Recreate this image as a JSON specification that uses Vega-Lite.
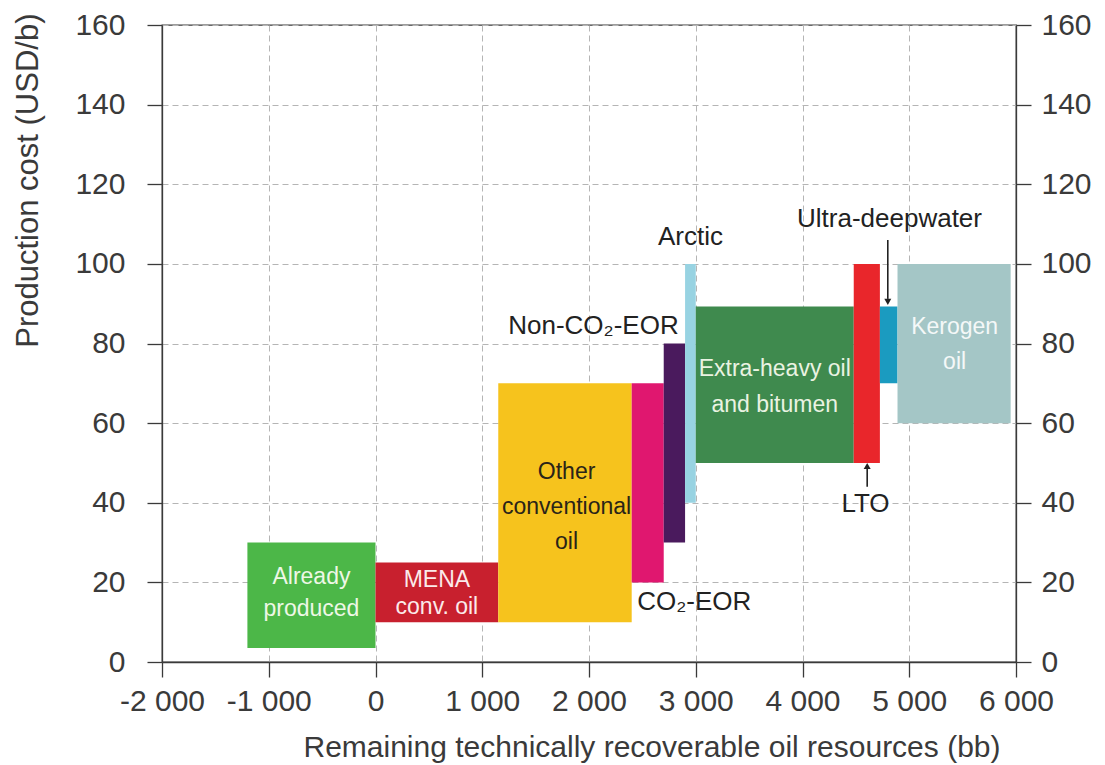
{
  "$schema": "https://vega.github.io/schema/vega-lite/v6.json",
  "width": 854,
  "height": 637,
  "autosize": {"type": "none"},
  "padding": {"left": 162, "top": 25, "right": 89, "bottom": 103},
  "background": "white",
  "config": {
    "view": {"stroke": "#3a3a3a", "strokeWidth": 1.3},
    "font": "Liberation Sans",
    "axis": {
      "domainColor": "#3a3a3a", "domainWidth": 1.3,
      "tickColor": "#3a3a3a", "tickWidth": 1.3, "tickSize": 15,
      "labelFont": "Liberation Sans", "labelFontSize": 30, "labelColor": "#3a3a3a",
      "gridColor": "#b5b5b5", "gridDash": [6, 4], "gridWidth": 1,
      "titleFont": "Liberation Sans", "titleFontWeight": "normal", "titleColor": "#3a3a3a"
    }
  },
  "datasets": {
    "bars": [
      {"name": "Already produced", "x0": -1200, "x1": 0, "y0": 3.5, "y1": 30},
      {"name": "MENA conv. oil", "x0": 0, "x1": 1150, "y0": 10, "y1": 25},
      {"name": "Other conventional oil", "x0": 1150, "x1": 2400, "y0": 10, "y1": 70},
      {"name": "CO2-EOR", "x0": 2400, "x1": 2700, "y0": 20, "y1": 70},
      {"name": "Non-CO2-EOR", "x0": 2700, "x1": 2900, "y0": 30, "y1": 80},
      {"name": "Arctic", "x0": 2900, "x1": 3000, "y0": 40, "y1": 100},
      {"name": "Extra-heavy oil and bitumen", "x0": 3000, "x1": 4480, "y0": 50, "y1": 89.3},
      {"name": "LTO", "x0": 4480, "x1": 4725, "y0": 50, "y1": 100},
      {"name": "Ultra-deepwater", "x0": 4725, "x1": 4890, "y0": 70, "y1": 89.3},
      {"name": "Kerogen oil", "x0": 4890, "x1": 5950, "y0": 60, "y1": 100}
    ],
    "inlabels": [
      {"bar": "Already produced", "text": "Already", "x": -600, "y": 19.7},
      {"bar": "Already produced", "text": "produced", "x": -600, "y": 11.5},
      {"bar": "MENA conv. oil", "text": "MENA", "x": 575, "y": 18.8},
      {"bar": "MENA conv. oil", "text": "conv. oil", "x": 575, "y": 12.0},
      {"bar": "Other conventional oil", "text": "Other", "x": 1790, "y": 45.9},
      {"bar": "Other conventional oil", "text": "conventional", "x": 1790, "y": 37.1},
      {"bar": "Other conventional oil", "text": "oil", "x": 1790, "y": 28.3},
      {"bar": "Extra-heavy oil and bitumen", "text": "Extra-heavy oil", "x": 3740, "y": 71.8},
      {"bar": "Extra-heavy oil and bitumen", "text": "and bitumen", "x": 3740, "y": 62.8},
      {"bar": "Kerogen oil", "text": "Kerogen", "x": 5425, "y": 82.4},
      {"bar": "Kerogen oil", "text": "oil", "x": 5425, "y": 73.6}
    ],
    "notes": [
      {"text": "Arctic", "x": 2951, "y": 104.7, "anchor": "center"},
      {"text": "Ultra-deepwater", "x": 4815, "y": 109.3, "anchor": "center"},
      {"text": "LTO", "x": 4590, "y": 37.75, "anchor": "center"},
      {"text": "Non-CO₂-EOR", "x": 2840, "y": 82.5, "anchor": "right"},
      {"text": "CO₂-EOR", "x": 2452, "y": 13.0, "anchor": "left"}
    ],
    "arrows": [
      {"label": "Ultra-deepwater", "x": 4799, "from": 106, "to": 91.2, "head": 90.45, "shape": "triangle-down"},
      {"label": "LTO", "x": 4606, "from": 44, "to": 48.5, "head": 49.25, "shape": "triangle-up"}
    ]
  },
  "layer": [
    {
      "data": {"name": "bars"},
      "mark": {"type": "rect"},
      "encoding": {
        "x": {
          "field": "x0", "type": "quantitative",
          "scale": {"domain": [-2000, 6000], "nice": false, "zero": false},
          "axis": {
            "values": [-2000, -1000, 0, 1000, 2000, 3000, 4000, 5000, 6000],
            "labelExpr": "replace(replace(format(datum.value, ','), ',', ' '), '\u2212', '-')",
            "labelPadding": 9, "labelFlush": false, "labelOverlap": false,
            "title": "Remaining technically recoverable oil resources (bb)",
            "titleFontSize": 30, "titleX": 838, "titleY": 94,
            "titleAlign": "right", "titleBaseline": "alphabetic"
          }
        },
        "x2": {"field": "x1"},
        "y": {
          "field": "y0", "type": "quantitative",
          "scale": {"domain": [0, 160], "nice": false, "zero": true},
          "axis": {
            "orient": "left",
            "values": [0, 20, 40, 60, 80, 100, 120, 140, 160],
            "labelPadding": 22,
            "title": "Production cost (USD/b)",
            "titleFontSize": 31, "titleAngle": 270,
            "titleX": -125, "titleY": -12,
            "titleAlign": "right", "titleBaseline": "alphabetic"
          }
        },
        "y2": {"field": "y1"},
        "color": {
          "field": "name", "type": "nominal", "legend": null,
          "scale": {
            "domain": ["Already produced", "MENA conv. oil", "Other conventional oil", "CO2-EOR", "Non-CO2-EOR", "Arctic", "Extra-heavy oil and bitumen", "LTO", "Ultra-deepwater", "Kerogen oil"],
            "range": ["#4cb748", "#c8202e", "#f6c31d", "#e0176f", "#4a1a5d", "#98d3e2", "#3f8a4e", "#e9262b", "#1b9bc0", "#a4c6c6"]
          }
        }
      }
    },
    {
      "data": {"name": "inlabels"},
      "mark": {"type": "text", "font": "Liberation Sans", "fontSize": 23, "align": "center", "baseline": "alphabetic"},
      "encoding": {
        "x": {"field": "x", "type": "quantitative", "axis": null},
        "y": {
          "field": "y", "type": "quantitative",
          "scale": {"domain": [0, 160], "nice": false},
          "axis": {
            "orient": "right",
            "values": [0, 20, 40, 60, 80, 100, 120, 140, 160],
            "grid": false, "labelPadding": 10, "title": null
          }
        },
        "text": {"field": "text"},
        "color": {
          "field": "bar", "type": "nominal", "legend": null,
          "scale": {
            "domain": ["Already produced", "MENA conv. oil", "Other conventional oil", "Extra-heavy oil and bitumen", "Kerogen oil"],
            "range": ["#eef7e6", "#fbeaea", "#2a2418", "#eaf3e2", "#f4f8f8"]
          }
        }
      }
    },
    {
      "data": {"name": "notes"},
      "transform": [{"filter": "datum.anchor === 'center'"}],
      "mark": {"type": "text", "font": "Liberation Sans", "fontSize": 26, "align": "center", "baseline": "alphabetic", "color": "#222222"},
      "encoding": {
        "x": {"field": "x", "type": "quantitative", "axis": null},
        "y": {"field": "y", "type": "quantitative", "axis": null},
        "text": {"field": "text"}
      }
    },
    {
      "data": {"name": "notes"},
      "transform": [{"filter": "datum.anchor === 'right'"}],
      "mark": {"type": "text", "font": "Liberation Sans", "fontSize": 26, "align": "right", "baseline": "alphabetic", "color": "#222222"},
      "encoding": {
        "x": {"field": "x", "type": "quantitative", "axis": null},
        "y": {"field": "y", "type": "quantitative", "axis": null},
        "text": {"field": "text"}
      }
    },
    {
      "data": {"name": "notes"},
      "transform": [{"filter": "datum.anchor === 'left'"}],
      "mark": {"type": "text", "font": "Liberation Sans", "fontSize": 26, "align": "left", "baseline": "alphabetic", "color": "#222222"},
      "encoding": {
        "x": {"field": "x", "type": "quantitative", "axis": null},
        "y": {"field": "y", "type": "quantitative", "axis": null},
        "text": {"field": "text"}
      }
    },
    {
      "data": {"name": "arrows"},
      "mark": {"type": "rule", "color": "#222222", "strokeWidth": 1.6},
      "encoding": {
        "x": {"field": "x", "type": "quantitative", "axis": null},
        "y": {"field": "from", "type": "quantitative", "axis": null},
        "y2": {"field": "to"}
      }
    },
    {
      "data": {"name": "arrows"},
      "mark": {"type": "point", "filled": true, "color": "#222222", "opacity": 1, "size": 49},
      "encoding": {
        "x": {"field": "x", "type": "quantitative", "axis": null},
        "y": {"field": "head", "type": "quantitative", "axis": null},
        "shape": {"field": "shape", "type": "nominal", "scale": null, "legend": null}
      }
    }
  ],
  "resolve": {"axis": {"x": "independent", "y": "independent"}, "scale": {"color": "independent"}}
}
